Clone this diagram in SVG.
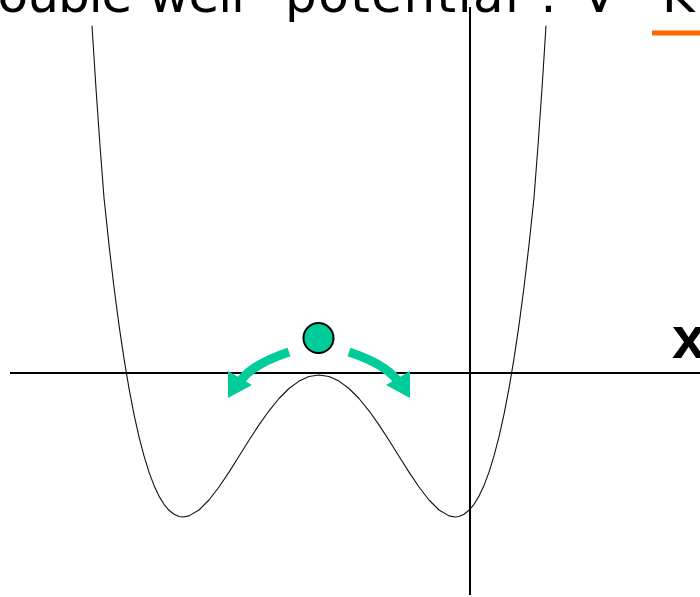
<svg xmlns="http://www.w3.org/2000/svg" width="700" height="597" viewBox="0 0 700 597">
<defs>
<style>
.title{font-family:"DejaVu Sans","Liberation Sans",Arial,sans-serif;font-size:50px;fill:#000}
.axis{stroke:#000;stroke-width:2;fill:none}
.curve{stroke:#111;stroke-width:1.1;fill:none;stroke-linejoin:round}
.arrow-shaft{stroke:#00CC99;stroke-width:9;fill:none}
.arrow-head{fill:#00CC99}
</style>
<g id="arrowLeft">
<path class="arrow-shaft" d="M 289 352 C 268 359 251 367 241 380"/>
<polygon class="arrow-head" points="228,398 228,371 252,385"/>
</g>
</defs>
<g id="title">
<text class="title" x="-40" y="12" textLength="285" lengthAdjust="spacing">Double-well</text>
<text class="title" x="285" y="12" textLength="234" lengthAdjust="spacing">potential</text>
<text class="title" x="540" y="12">:</text>
<text class="title" x="582" y="12">V</text>
<text class="title" x="624" y="6">=</text>
<text class="title" x="662" y="12">K</text>
</g>
<g id="legend-line">
<line x1="652" y1="33" x2="700" y2="33" stroke="#FF6600" stroke-width="5"/>
</g>
<g id="axes">
<line class="axis" x1="10" y1="373" x2="700" y2="373"/>
<line class="axis" x1="470" y1="7" x2="470" y2="595"/>
<text x="672" y="358" font-family="Liberation Sans, Arial, sans-serif" font-size="60" font-weight="bold">x</text>
</g>
<g id="potential-curve">
<polyline class="curve" points="92,25.7 96,88.5 100,145.8 104,197.8 109,244.9 114,287.2 119,325.1 124,358.7 129,388.4 134,414.3 139,436.8 144,455.9 149,472.1 154,485.4 159,496.1 164,504.3 169,510.3 174,514.3 179,516.5 183,517 189,515.9 199,510 209,500 219,487 229,472.1 239,456.3 249,440.3 259,424.9 269,410.8 279,398.5 289,388.5 299,381.1 309,376.5 319,375 329,376.5 339,381.1 349,388.5 359,398.5 369,410.8 379,424.9 389,440.3 399,456.3 409,472.1 419,487 429,500 439,510 449,515.9 455,517 459,516.5 464,514.3 469,510.3 474,504.3 479,496.1 484,485.4 489,472.1 494,455.9 499,436.8 504,414.3 509,388.4 514,358.7 519,325.1 524,287.2 529,244.9 534,197.8 538,145.8 542,88.5 546,25.7"/>
</g>
<g id="ball">
<circle cx="318.5" cy="338" r="15" fill="#00CC99" stroke="#000" stroke-width="2"/>
</g>
<g id="connectors">
<use href="#arrowLeft"/>
<use href="#arrowLeft" transform="translate(638,0) scale(-1,1)"/>
</g>
</svg>
